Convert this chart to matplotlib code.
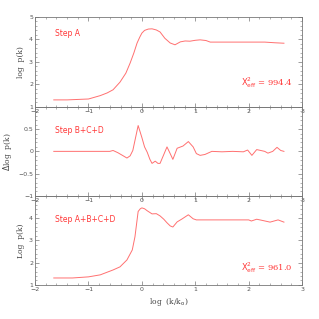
import matplotlib
matplotlib.use('Agg')
import matplotlib.pyplot as plt
from matplotlib.ticker import MultipleLocator

# panel 1: step A
x1 = [-1.65, -1.4, -1.2, -1.0, -0.78, -0.65, -0.54, -0.41, -0.3, -0.22, -0.15, -0.09,
      -0.04, 0.0, 0.05, 0.12, 0.19, 0.27, 0.34, 0.43, 0.53, 0.62, 0.72, 0.81, 0.9,
      1.0, 1.09, 1.2, 1.28, 1.6, 2.0, 2.3, 2.49, 2.66]
y1 = [1.31, 1.31, 1.33, 1.35, 1.5, 1.62, 1.76, 2.1, 2.5, 2.95, 3.4, 3.84,
      4.1, 4.28, 4.4, 4.46, 4.47, 4.42, 4.33, 4.05, 3.84, 3.76, 3.89, 3.93, 3.92,
      3.96, 3.98, 3.95, 3.88, 3.88, 3.88, 3.88, 3.85, 3.83]

# panel 2: step B+C+D
x2 = [-1.65, -1.2, -0.8, -0.6, -0.54, -0.45, -0.35, -0.28, -0.22, -0.17, -0.12, -0.07,
      0.0, 0.05, 0.1, 0.15, 0.19, 0.25, 0.3, 0.34, 0.4, 0.47, 0.53, 0.58, 0.66,
      0.77, 0.87, 0.96, 1.02, 1.09, 1.18, 1.31, 1.5, 1.7, 1.9, 1.98, 2.06, 2.15,
      2.3, 2.36, 2.45, 2.53, 2.6, 2.66]
y2 = [0.0, 0.0, 0.0, 0.0, 0.02, -0.03, -0.1, -0.15, -0.1, 0.02, 0.3, 0.58,
      0.31, 0.1, -0.02, -0.18, -0.27, -0.22, -0.27, -0.27, -0.1, 0.1, -0.05, -0.18, 0.07,
      0.12, 0.22, 0.1, -0.05, -0.09, -0.07, 0.0, -0.01, 0.0, -0.01, 0.03, -0.09, 0.04,
      0.0, -0.04, 0.0, 0.09, 0.02, 0.0]

# panel 3: step A+B+C+D
x3 = [-1.65, -1.3, -1.0, -0.78, -0.54, -0.41, -0.28, -0.18, -0.13, -0.09, -0.07, -0.03,
      0.0, 0.05, 0.1, 0.19, 0.27, 0.34, 0.41, 0.47, 0.53, 0.58, 0.66, 0.75, 0.87,
      0.96, 1.02, 1.3, 1.7, 2.0, 2.05, 2.15, 2.25, 2.4, 2.55, 2.66]
y3 = [1.31, 1.31, 1.36, 1.45, 1.67, 1.81, 2.12, 2.57, 3.16, 3.92, 4.3, 4.42,
      4.46, 4.42, 4.33, 4.19, 4.2, 4.1, 3.95, 3.79, 3.65, 3.6, 3.83, 3.96, 4.15,
      3.97, 3.92, 3.92, 3.92, 3.92, 3.87, 3.95, 3.9, 3.82, 3.92, 3.82]

labels = ['Step A', 'Step B+C+D', 'Step A+B+C+D']
chi2 = ['994.4', None, '961.0']
ylabels = ['log  p(k)', r'$\Delta$log  p(k)', 'Log  p(k)']
ylims = [(1, 5), (-1, 1), (1, 5)]
yticks = [[1, 2, 3, 4, 5], [-1, -0.5, 0, 0.5, 1], [1, 2, 3, 4, 5]]
yticklabels = [['1', '2', '3', '4', '5'],
               ['\u22121', '\u22120.5', '0', '0.5', ''],
               ['1', '2', '3', '4', '']]

linecol = '#ff7070'
textcol = '#ff3838'
axcol = '#777777'

fig = plt.figure(figsize=(3.19, 3.19), dpi=100)
boxes = [[0.110, 0.665, 0.837, 0.282],
         [0.110, 0.386, 0.837, 0.279],
         [0.110, 0.107, 0.837, 0.279]]
chi_y = [0.27, None, 0.19]

for i, (xs, ys) in enumerate([(x1, y1), (x2, y2), (x3, y3)]):
    ax = fig.add_axes(boxes[i])
    ax.patch.set_alpha(0)
    ax.plot(xs, ys, color=linecol, lw=0.7)
    ax.set_xlim(-2, 3)
    ax.set_ylim(*ylims[i])
    ax.xaxis.set_major_locator(MultipleLocator(1))
    ax.xaxis.set_minor_locator(MultipleLocator(0.2))
    ax.set_yticks(yticks[i], yticklabels[i])
    ax.yaxis.set_minor_locator(MultipleLocator(0.1 if i == 1 else 0.2))
    ax.tick_params(which='both', direction='in', top=True, right=True,
                   colors=axcol, labelcolor='#555555', labelsize=4.5, pad=1.5)
    ax.tick_params(which='major', length=3, width=0.5)
    ax.tick_params(which='minor', length=1.5, width=0.4)
    for s in ax.spines.values():
        s.set_color(axcol)
        s.set_linewidth(0.6)
    ax.set_ylabel(ylabels[i], family='serif', fontsize=5.5, color='#444444', labelpad=3)
    ax.text(0.075, 0.81 if i == 0 else 0.74, labels[i], transform=ax.transAxes,
            color=textcol, fontsize=5.5, va='center', ha='left')
    if chi2[i]:
        ax.text(0.966, chi_y[i], r'$\mathrm{X}^2_{\mathrm{eff}}$ = ' + chi2[i],
                transform=ax.transAxes, color=textcol, fontsize=6, family='serif',
                ha='right', va='center')
    if i == 2:
        ax.set_xlabel(r'log  (k/k$_{\rm o}$)', family='serif', fontsize=5.5,
                      color='#444444', labelpad=3)

fig.savefig('out.png', dpi=100)
